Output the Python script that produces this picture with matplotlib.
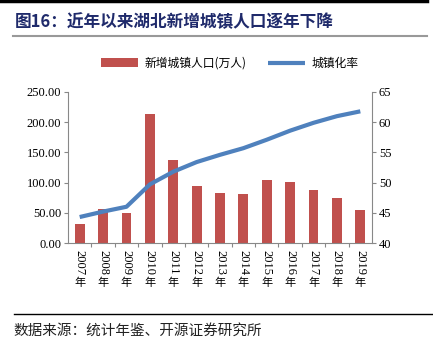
import matplotlib
matplotlib.use("Agg")
import matplotlib.pyplot as plt
from matplotlib.lines import Line2D

plt.rcParams['font.family'] = ['Liberation Serif', 'Noto Sans CJK SC']

# data
years = ["2007", "2008", "2009", "2010", "2011", "2012", "2013",
         "2014", "2015", "2016", "2017", "2018", "2019"]
new_pop = [31, 56, 50, 214, 138, 94, 83, 81, 104, 101, 88, 75, 55]
urban_rate = [44.3, 45.2, 46.0, 49.7, 51.8, 53.4, 54.6, 55.7, 57.1, 58.6, 59.9, 61.0, 61.8]

bar_color = "#C0504D"
line_color = "#4F81BD"

fig = plt.figure(figsize=(4.33, 3.45), dpi=100)

# decoration lines
fig.add_artist(Line2D([0, 0.985], [0.997, 0.997], color="black", lw=2.5))
fig.add_artist(Line2D([0.03, 0.985], [0.895, 0.895], color="#999999", lw=1.5))
fig.add_artist(Line2D([0.032, 1], [0.09, 0.09], color="black", lw=1))

fig.text(0.035, 0.935, "图16：近年以来湖北新增城镇人口逐年下降",
         fontsize=12, fontweight="bold", color="#1F2A6B",
         family=['Noto Sans CJK SC'], va="center")
fig.text(0.032, 0.04, "数据来源：统计年鉴、开源证券研究所",
         fontsize=10.5, color="#222222", family=['Noto Sans CJK SC'], va="center")

ax = fig.add_axes([68 / 433, 1 - 243 / 345, (372 - 68) / 433, (243 - 92) / 345])
x = list(range(len(years)))
bars = ax.bar(x, new_pop, width=0.42, color=bar_color)
ax.set_ylim(0, 250)
ax.set_yticks([0, 50, 100, 150, 200, 250])
ax.set_yticklabels([f"{v:.2f}" for v in [0, 50, 100, 150, 200, 250]], fontsize=9)
ax.set_xlim(-0.5, len(years) - 0.5)
ax.set_xticks([i + 0.5 for i in range(len(years) - 1)])
ax.set_xticklabels([])
ax.tick_params(axis="x", length=3, color="#888888")
ax.tick_params(axis="y", length=3, color="#888888", pad=2)
for s in ["top", "right"]:
    ax.spines[s].set_visible(False)
for s in ["left", "bottom"]:
    ax.spines[s].set_color("#888888")

# vertical year labels: digits rotated, 年 upright
for xi, yr in zip(x, years):
    ax.annotate(yr, xy=(xi, 0), xycoords=("data", "axes fraction"),
                xytext=(0, -5), textcoords="offset points", rotation=270,
                ha="center", va="top", fontsize=9, family="Liberation Serif")
    ax.annotate("年", xy=(xi, 0), xycoords=("data", "axes fraction"),
                xytext=(0, -25), textcoords="offset points",
                ha="center", va="top", fontsize=8, family="Noto Sans CJK SC")

ax2 = ax.twinx()
line, = ax2.plot(x, urban_rate, color=line_color, lw=3, solid_capstyle="butt")
ax2.set_ylim(40, 65)
ax2.set_yticks([40, 45, 50, 55, 60, 65])
ax2.tick_params(axis="y", length=3, color="#888888", labelsize=9, pad=2)
for s in ["top", "left", "bottom"]:
    ax2.spines[s].set_visible(False)
ax2.spines["right"].set_color("#888888")

fig.legend([bars, line], ["新增城镇人口(万人)", "城镇化率"], loc="center",
           bbox_to_anchor=(0.53, 0.817), ncol=2, frameon=False,
           prop={"family": ['Noto Sans CJK SC'], "size": 8.5},
           handlelength=3.2, columnspacing=1.8, handletextpad=0.5)

fig.savefig("out.png", dpi=100)
